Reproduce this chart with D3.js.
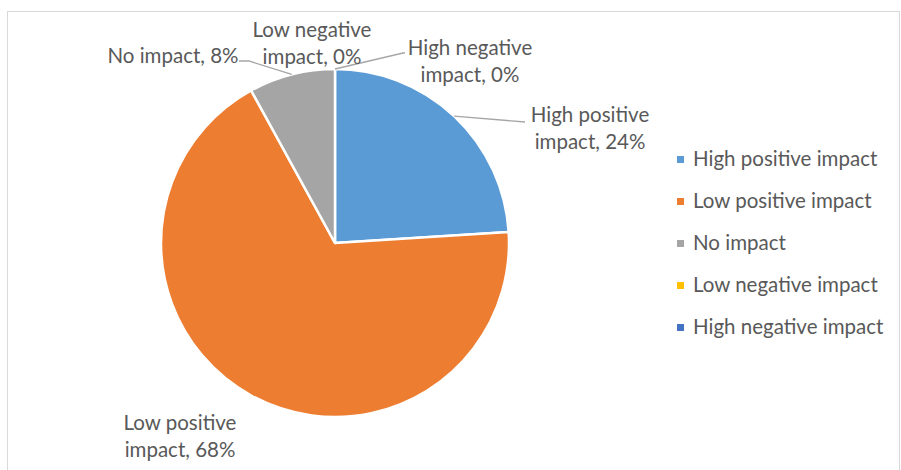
<!DOCTYPE html>
<html>
<head>
<meta charset="utf-8">
<script src="https://cdn.jsdelivr.net/npm/d3@7"></script>
<style>
  html, body { margin: 0; padding: 0; background: #fff; }
  svg { display: block; }
  text { font-family: Lato, "Open Sans", sans-serif; fill: #595959; }
</style>
</head>
<body>
<svg id="chart" width="901" height="470"></svg>
<script>
// Impact categories and their shares (%)
const categories = ["High positive impact", "Low positive impact", "No impact", "Low negative impact", "High negative impact"];
const values = [24, 68, 8, 0, 0];
const colors = ["#5B9BD5", "#ED7D31", "#A5A5A5", "#FFC000", "#4472C4"];
// Data label text, split into lines
const labelLines = [
  ["High positive", "impact, 24%"],
  ["Low positive", "impact, 68%"],
  ["No impact, 8%"],
  ["Low negative", "impact, 0%"],
  ["High negative", "impact, 0%"]
];

const W = 901, H = 470;
const cx = 335, cy = 243, R = 174;
const fontSize = 20.5, lineH = 27;

const svg = d3.select("#chart");

// chart area frame
svg.append("rect")
  .attr("x", 7.5).attr("y", 11.5)
  .attr("width", 892).attr("height", 480)
  .attr("fill", "#fff").attr("stroke", "#D9D9D9").attr("stroke-width", 1);

const data = categories.map((c, i) => ({ cat: c, value: values[i], color: colors[i], lines: labelLines[i] }));

const pie = d3.pie().value(d => d.value).sort(null);
const arcs = pie(data);
const arc = d3.arc().innerRadius(0).outerRadius(R);

const g = svg.append("g").attr("transform", `translate(${cx},${cy})`);

g.selectAll("path.slice")
  .data(arcs.filter(a => a.data.value > 0))
  .join("path")
  .attr("class", "slice")
  .attr("d", arc)
  .attr("fill", d => d.data.color)
  .attr("stroke", "#fff")
  .attr("stroke-width", 2.5)
  .attr("stroke-linejoin", "round");

// label placement relative to the pie centre: anchor x, first baseline y, text-anchor
const labelPlace = [
  { x: 255, y: -121, anchor: "middle", leader: [[190, -121]] },
  { x: -155, y: 187, anchor: "middle", leader: null },
  { x: -162, y: -180, anchor: "middle", leader: [[-86, -182], [-96, -182]] },
  { x: -23, y: -206, anchor: "middle", leader: null },
  { x: 135, y: -188, anchor: "middle", leader: [[68, -190], [70, -190]] }
];

function outerPoint(a) {
  const m = (a.startAngle + a.endAngle) / 2;
  return [R * Math.sin(m), -R * Math.cos(m)];
}

// leader lines
arcs.forEach((a, i) => {
  const p = labelPlace[i];
  if (!p.leader) return;
  const start = outerPoint(a);
  const pts = [start, ...p.leader];
  g.append("path")
    .attr("d", d3.line()(pts))
    .attr("fill", "none")
    .attr("stroke", "#A6A6A6")
    .attr("stroke-width", 1.3);
});

// data labels
arcs.forEach((a, i) => {
  const p = labelPlace[i];
  const t = g.append("text")
    .attr("text-anchor", p.anchor)
    .attr("font-size", fontSize);
  a.data.lines.forEach((ln, k) => {
    t.append("tspan").attr("x", p.x).attr("y", p.y + k * lineH).text(ln);
  });
});

// legend
const legend = svg.append("g").attr("transform", "translate(677,166)");
const rows = legend.selectAll("g")
  .data(data)
  .join("g")
  .attr("transform", (d, i) => `translate(0,${i * 42})`);
rows.append("rect")
  .attr("x", 0).attr("y", -10)
  .attr("width", 7).attr("height", 7)
  .attr("fill", d => d.color);
rows.append("text")
  .attr("x", 16).attr("y", 0)
  .attr("font-size", fontSize)
  .text(d => d.cat);
</script>
</body>
</html>
